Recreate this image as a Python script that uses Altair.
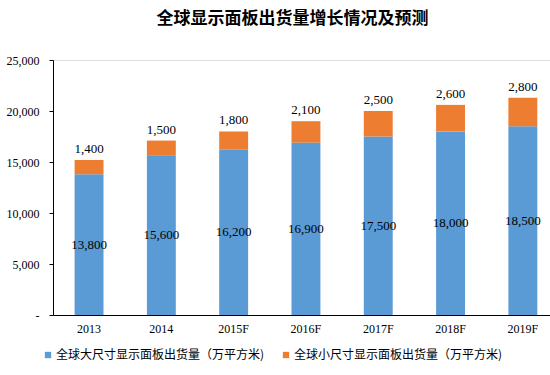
import altair as alt
import pandas as pd

years = ["2013", "2014", "2015F", "2016F", "2017F", "2018F", "2019F"]
large = [13800, 15600, 16200, 16900, 17500, 18000, 18500]
small = [1400, 1500, 1800, 2100, 2500, 2600, 2800]
series = ["全球大尺寸显示面板出货量（万平方米)", "全球小尺寸显示面板出货量（万平方米)"]
colors = ["#5B9BD5", "#ED7D31"]
title_text = "全球显示面板出货量增长情况及预测"

rows = []
for y, a, b in zip(years, large, small):
    rows.append({"year": y, "series": series[0], "value": a, "ord": 0})
    rows.append({"year": y, "series": series[1], "value": b, "ord": 1})
df = pd.DataFrame(rows)

lab = pd.DataFrame({
    "year": years,
    "large": large,
    "small": small,
    "mid": [a / 2 for a in large],
    "top": [a + b for a, b in zip(large, small)],
})

serif = "Liberation Serif"
cjk = "Noto Sans CJK SC"

xscale = alt.Scale(paddingInner=0.6, paddingOuter=0.237, align=0.63)
xenc = alt.X("year:N", sort=years, scale=xscale,
             axis=alt.Axis(title=None, labelAngle=0, ticks=False, domainColor="#000000",
                           labelFont=serif, labelFontSize=12, labelColor="#000000",
                           labelPadding=8))

bars = alt.Chart(df).mark_bar().encode(
    x=xenc,
    y=alt.Y("value:Q", stack="zero",
            scale=alt.Scale(domain=[0, 25000], nice=False),
            axis=alt.Axis(title=None, values=[0, 5000, 10000, 15000, 20000, 25000],
                          grid=False, domainColor="#000000", tickColor="#000000",
                          tickSize=4, labelFont=serif, labelFontSize=12,
                          labelColor="#000000", labelPadding=10,
                          labelExpr="datum.value == 0 ? '-\u00a0\u00a0' : format(datum.value, ',')")),
    color=alt.Color("series:N", sort=series,
                    scale=alt.Scale(domain=series, range=colors),
                    legend=alt.Legend(title=None, orient="none", direction="horizontal",
                                      legendX=-11, legendY=289, columnPadding=15,
                                      symbolType="square", symbolSize=40,
                                      symbolStrokeWidth=0, labelFont=cjk,
                                      labelFontSize=12, labelColor="#000000",
                                      labelOffset=2, labelLimit=400)),
    order=alt.Order("ord:Q"),
)

mid_text = alt.Chart(lab).mark_text(font=serif, fontSize=13, color="#000000").encode(
    x=alt.X("year:N", sort=years, scale=xscale),
    y=alt.Y("mid:Q"),
    text=alt.Text("large:Q", format=","),
)

top_text = alt.Chart(lab).mark_text(font=serif, fontSize=13, color="#000000",
                                    baseline="bottom", dy=-4).encode(
    x=alt.X("year:N", sort=years, scale=xscale),
    y=alt.Y("top:Q"),
    text=alt.Text("small:Q", format=","),
)

chart = alt.layer(bars, mid_text, top_text).properties(
    width=497, height=255,
    title=alt.TitleParams(title_text, font=cjk, fontSize=17, fontWeight="bold",
                          color="#000000", anchor="middle", offset=26, dx=-9),
    autosize=alt.AutoSizeParams(type="none"),
    padding={"left": 53, "top": 60, "right": 0, "bottom": 60},
).configure_view(stroke=None).configure(background="#ffffff")

chart.save("out.html", embed_options={"renderer": "svg", "actions": False})
